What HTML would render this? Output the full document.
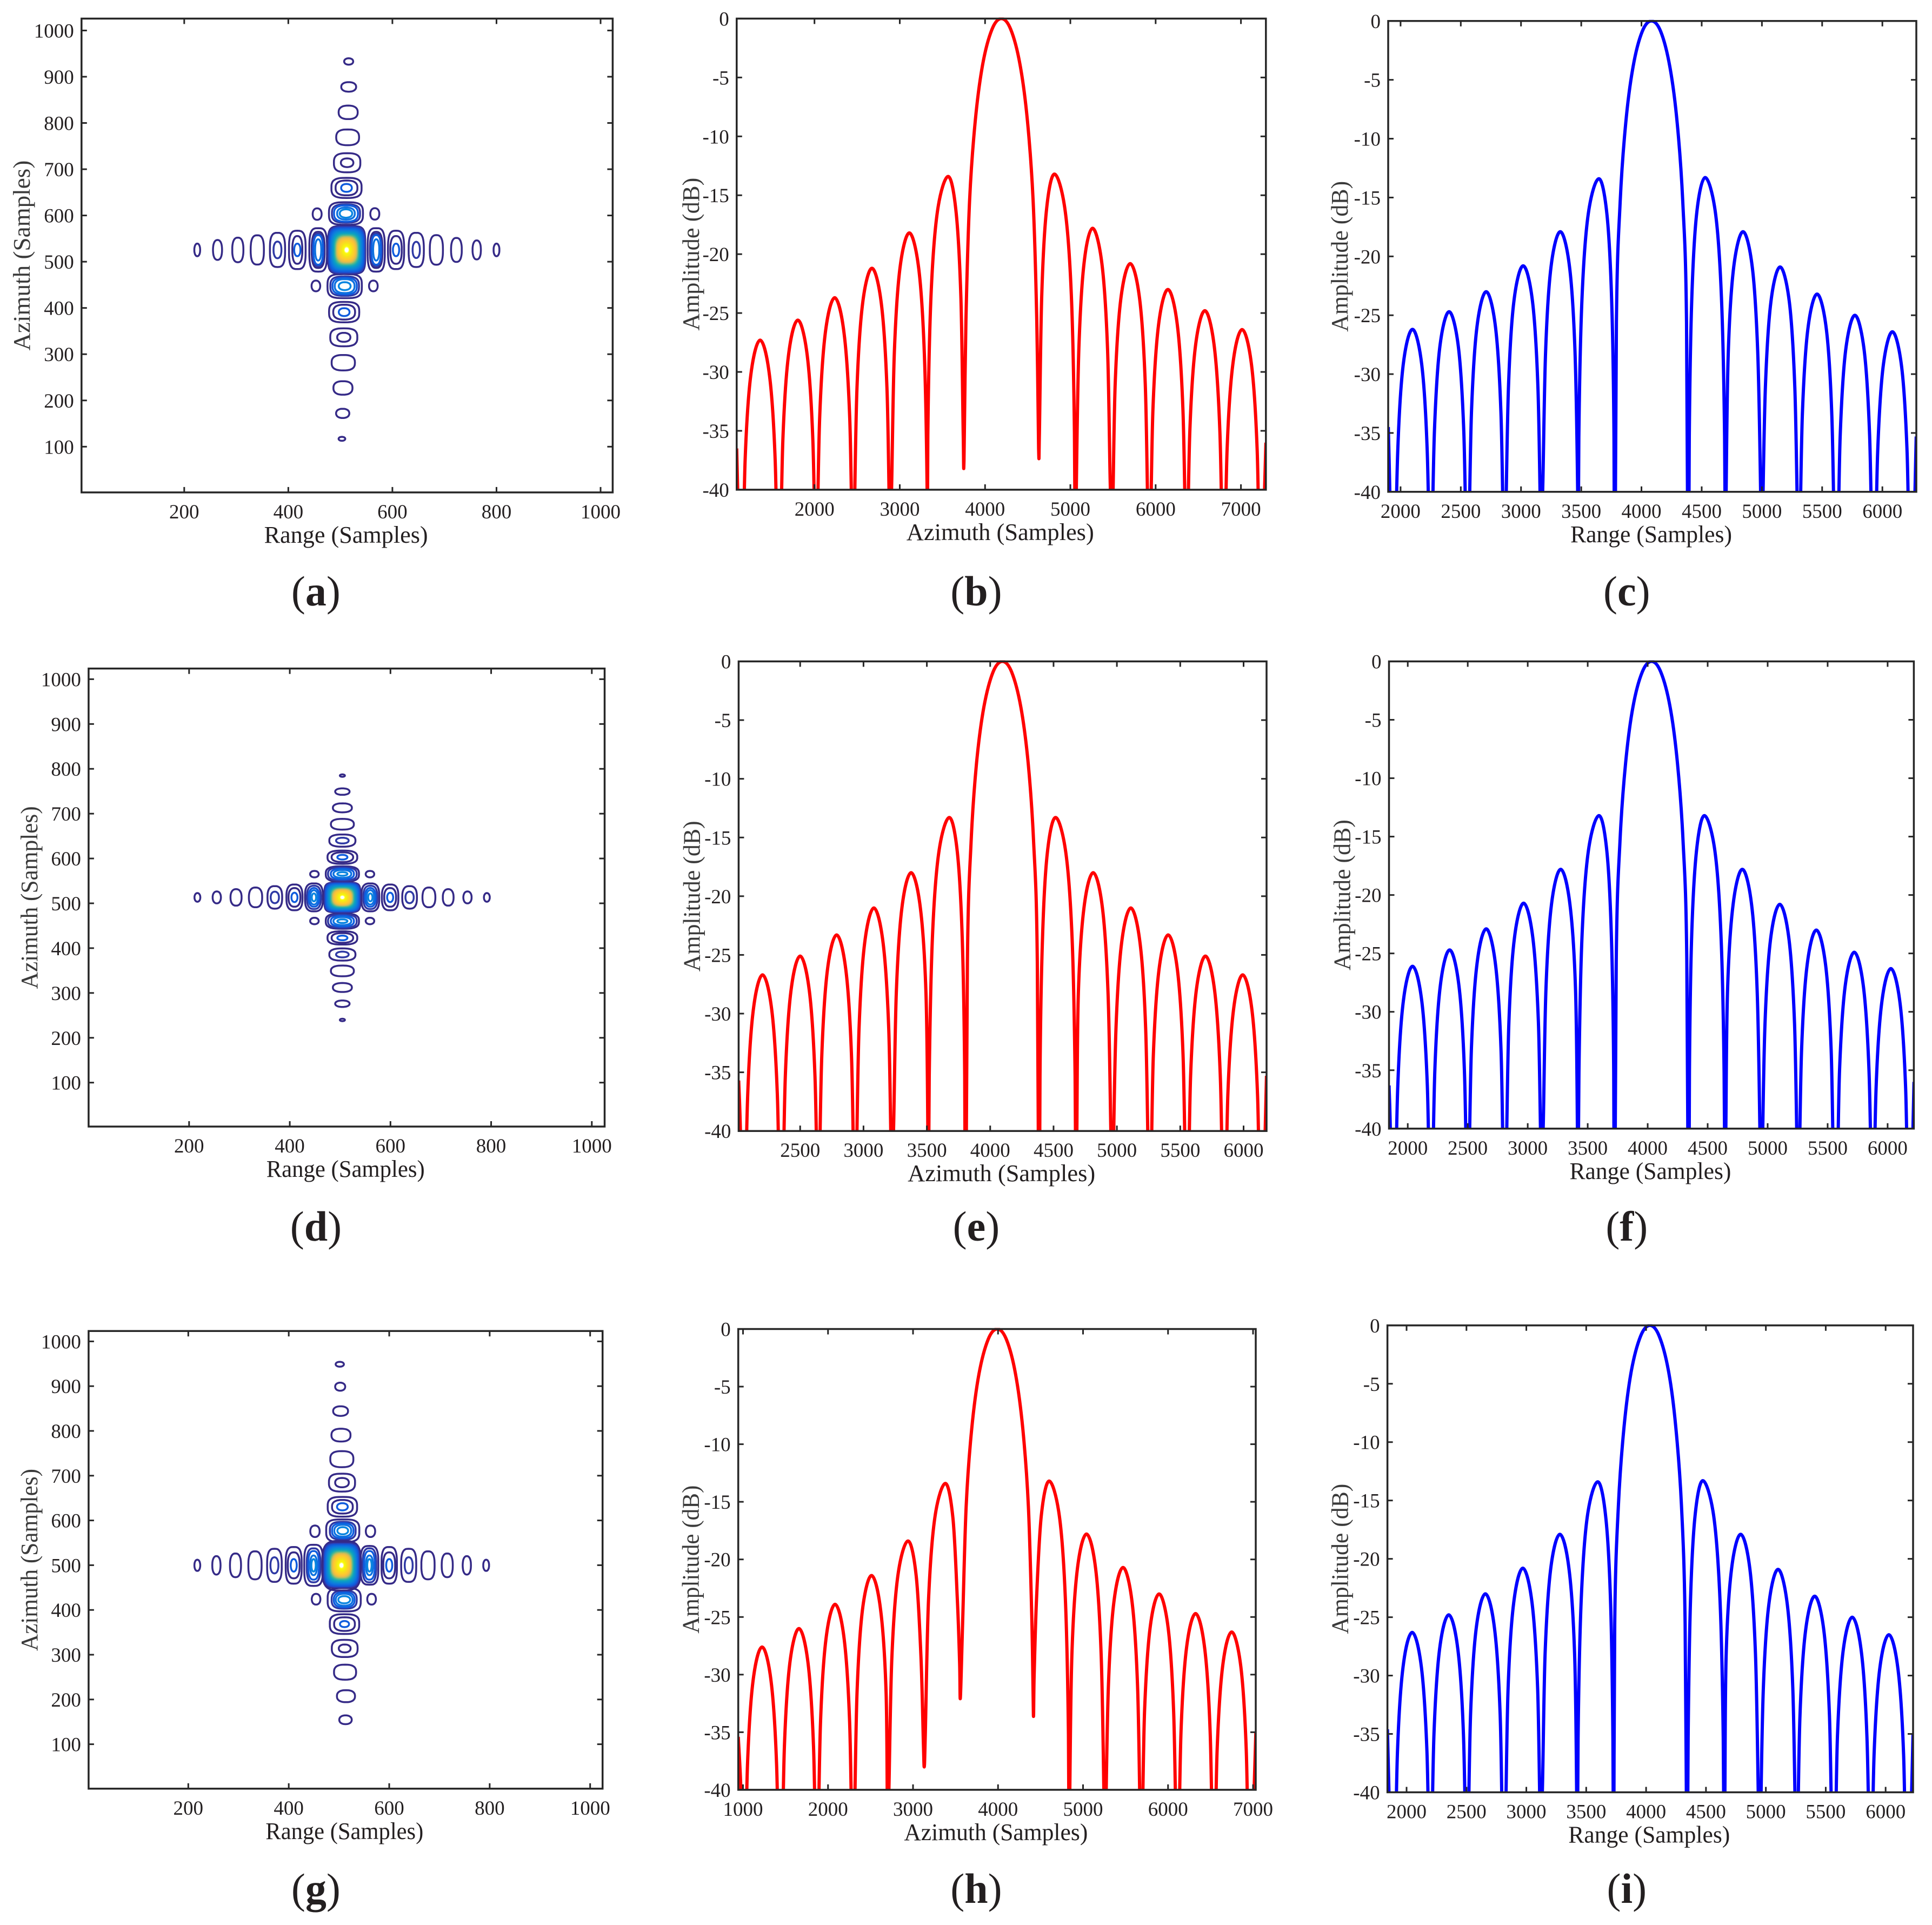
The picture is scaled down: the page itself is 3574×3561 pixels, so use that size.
<!DOCTYPE html>
<html lang="en">
<head>
<meta charset="utf-8">
<title>Point target contour and impulse response profiles</title>
<style>
html,body{margin:0;padding:0;background:#fff;}
svg{display:block;}
text{font-family:"Liberation Serif","DejaVu Serif",serif;fill:#231f20;}
</style>
</head>
<body>
<svg id="figure" xmlns="http://www.w3.org/2000/svg" width="3574" height="3561" viewBox="0 0 3574 3561"></svg>
<script>
/* ---------- chart data: tick labels ---------- */
const contourXTicks=[200,400,600,800,1000];
const contourYTicks=[100,200,300,400,500,600,700,800,900,1000];
const ampTicks=[0,-5,-10,-15,-20,-25,-30,-35,-40];
const ticksB=[2000,3000,4000,5000,6000,7000];
const ticksC=[2000,2500,3000,3500,4000,4500,5000,5500,6000];
const ticksE=[2500,3000,3500,4000,4500,5000,5500,6000];
const ticksF=[2000,2500,3000,3500,4000,4500,5000,5500,6000];
const ticksH=[1000,2000,3000,4000,5000,6000,7000];
const ticksI=[2000,2500,3000,3500,4000,4500,5000,5500,6000];

/* ---------- chart data: contour levels ---------- */
const levelColors=['#352a87','#2f3aa5','#0f5cdd','#0d72e0','#0a86e0'];
const mainLobeScale=[1,.97,.94,.91,.87,.83,.79,.75,.71,.67,.635,.6,.57,.545,.52,.49,.45,.4,.35,.29,.23,.16,.12,.085];
const mainLobeColors=['#352a87','#3038a6','#2446c4','#1359d8','#0f67df','#0f75de','#0d82d9','#0b8fd0','#0a9bc8','#15a6b8','#2fb0a4','#57b78d','#82bb78','#a9bd67','#ccbb5a','#e8bd47','#f8c339','#fecb2e','#fad625','#f6e31b','#f7f011','#f9fb0e','#ffff66','#ffffff'];

/* ---------- panel (a) contour rings ---------- */
const ringRangeA=[225,264,303,340.4,379.2,379.2,417.3,417.3,417.3,457.4,457.4,457.4,457.4,457.4,568.9,568.9,568.9,568.9,568.9,607,607,607,645.8,645.8,684.5,723,762,800,
516,516,515,514,513,513,511.8,511.8,511.8,510.8,510.8,510.8,510.8,510.8,508.3,508.3,508.3,508.3,508.3,507.3,507.3,507.3,506.6,506.6,505.6,505,504.5,503,455.4,566.2,453,563.4];
const ringAzimuthA=[525.5,525.5,525.5,525.5,525.5,525.5,525.5,525.5,525.5,525.5,525.5,525.5,525.5,525.5,525.5,525.5,525.5,525.5,525.5,525.5,525.5,525.5,525.5,525.5,525.5,525.5,525.5,525.5,
933,878,823,769,714,714,659.6,659.6,659.6,604.2,604.2,604.2,604.2,604.2,447.2,447.2,447.2,447.2,447.2,391,391,391,336.5,336.5,281.6,227,172,117,603,603.4,447.6,447.6];
const ringHalfRangeA=[5.6,8.7,10.7,12.7,14.6,7.6,16,9.6,6,17,12.4,10.5,9.3,5.9,16.5,12,10.5,9.3,5.9,15.5,11,6,14.6,7,12.6,10.3,8,5.6,
8.7,14.3,18.3,22,25.4,12,29,21,10.3,32.7,27,23,17,12,33,27.5,23.4,19,11.4,29,21,10.3,26,12.7,22.4,18.3,12.7,6.4,8.6,8.6,8.3,8.3];
const ringHalfAzimuthA=[13.7,21.5,26.6,31.7,37,18,41.5,30,13.6,47,39,35,32,23,47,39,35,32,23,41.5,30,13.6,37,17.5,32,26,20.6,13.7,
6.9,10.3,14.6,17,20.6,9.4,21.7,16,8.5,24.4,20,17.5,13,9,26,21,18,15,8.5,22,16,8.5,19.4,9.7,16.7,14.6,10,4.3,12.4,12.4,11.6,11.6];
const ringLevelA=[0,0,0,0,0,1,0,0,2,0,0,1,2,3,0,0,1,2,3,0,0,2,0,1,0,0,0,0,
0,0,0,0,0,0,0,0,2,0,1,2,3,4,0,1,2,3,4,0,0,2,0,0,0,0,0,0,0,0,0,0];
const mainRangeA=[512.1],mainAzimuthA=[525.5],mainHalfRangeA=[37],mainHalfAzimuthA=[53];

/* ---------- panel (d) contour rings ---------- */
const ringRangeD=[216.5,255,293.3,332,370.3,370.3,409.3,409.3,409.3,448,448,448,448,448,560,560,560,560,560,599.4,599.4,599.4,638,638,676.4,714.7,753,791.5,
504.5,504.5,504.5,504.5,504.5,504.5,504.5,504.5,504.5,504.5,504.5,504.5,504.5,504.5,504.5,504.5,504.5,504.5,504.5,504.5,504.5,504.5,504.5,504.5,504.5,504.5,504.5,504.5,449,559.3,449,559.3];
const ringAzimuthD=[513.2,513.2,513.2,513.2,513.2,513.2,513.2,513.2,513.2,513.2,513.2,513.2,513.2,513.2,513.2,513.2,513.2,513.2,513.2,513.2,513.2,513.2,513.2,513.2,513.2,513.2,513.2,513.2,
784.9,749.2,713,676.4,639.9,639.9,602.9,602.9,602.9,565.5,565.5,565.5,565.5,565.5,460.2,460.2,460.2,460.2,460.2,422.8,422.8,422.8,385.8,385.8,349.2,312.2,276,239.8,565.1,565.1,460.6,460.6];
const ringHalfRangeD=[5.8,8.2,11,13.2,14.6,8.2,16,11.8,6,17.8,14,10.7,7.8,4.3,17.8,14,10.7,7.8,4.3,16.4,11.8,6,14.6,8.2,12.8,10.7,8.2,5.8,
5,14.3,18.9,22.8,26,12.5,29.6,21.4,10,33,28.5,23,17.8,10,33,28.5,23,17.8,10,29.6,21.4,10,26,12.5,22.8,18.9,14.3,5,8.5,8.5,8.5,8.5];
const ringHalfAzimuthD=[9.7,13.3,18.4,22,25.2,12.8,28.8,20.8,10.4,31.2,26,20.8,16,8.8,31.2,26,20.8,16,8.8,28.8,20.8,10.4,25.2,12.8,22,18.4,13.3,9.7,
2.7,7.2,10,12,13.6,6.4,14.8,10.8,5.2,17,14.8,12,8.8,4,17,14.8,12,8.8,4,14.8,10.8,5.2,13.6,6.4,12,10,7.2,2.7,7.2,7.2,7.2,7.2];
const ringLevelD=[0,0,0,0,0,1,0,0,2,0,1,2,3,4,0,1,2,3,4,0,0,2,0,1,0,0,0,0,
0,0,0,0,0,1,0,0,2,0,1,2,3,4,0,1,2,3,4,0,0,2,0,1,0,0,0,0,0,0,0,0];
const mainRangeD=[504.5],mainAzimuthD=[513.2],mainHalfRangeD=[37],mainHalfAzimuthD=[34.8];

/* ---------- panel (g) contour rings ---------- */
const ringRangeG=[218,256,294,332.8,371.5,371.5,409.9,409.9,409.9,449.4,449.4,449.4,449.4,449.4,560.6,560.6,560.6,560.6,560.6,600,600,600,638.8,638.8,677.2,715.5,754.5,793,
501.6,502.4,503.2,504,505.7,506,506,506.8,506.8,506.8,507.5,507.5,507.5,507.5,507.5,510.4,510.4,510.4,510.4,510.4,511,511,511,511.4,511.4,512.1,513.9,513,452.2,562.7,454.4,564.9,505];
const ringAzimuthG=[499.7,499.7,499.7,499.7,499.7,499.7,499.7,499.7,499.7,499.7,499.7,499.7,499.7,499.7,499.7,499.7,499.7,499.7,499.7,499.7,499.7,499.7,499.7,499.7,499.7,499.7,499.7,499.7,
948.9,898.8,844.3,790.6,736.9,684.5,684.5,630.5,630.5,630.5,577,577,577,577,577,422.8,422.8,422.8,422.8,422.8,368.4,368.4,368.4,314,314,261,207.4,154.6,575.8,575.8,424,424,499];
const ringHalfRangeG=[5.8,8.2,11,13.2,14.6,7.9,16,11.8,6,18.6,13.6,10.7,7.1,4.3,17.8,13.6,10.7,7.1,4.3,15.4,11.8,6,15,7.9,13.2,11,8.2,5.8,
8.2,10,14.8,19,23,26,13.6,29.3,20.7,10.7,33,25.7,21.4,16.8,10.7,33,25,20.7,16.8,11.8,29.3,20.7,9,25.7,11.8,22,18,12.4,9.3,9.3,8.6,8.6,38.5];
const ringHalfAzimuthG=[12.5,20.6,26.5,31.3,37,18,41,29,14,46,38,32,22,14,43.3,38,32,22,14,41,29,14,37,18,31.3,26.5,20.6,12.5,
5.4,9,10.7,14.3,17.9,20,10.4,22,15.2,8,25.2,20,16.8,13.2,8,26,20,16.8,13.2,8,22,15.2,6.8,19.2,8.8,16.8,13.4,9.8,12.8,12.8,12,12,55.5];
const ringLevelG=[0,0,0,0,0,1,0,0,2,0,1,2,3,4,0,1,2,3,4,0,0,2,0,1,0,0,0,0,
0,0,0,0,0,0,0,0,0,2,0,1,2,3,4,0,1,2,3,4,0,0,2,0,0,0,0,0,0,0,0,0,0];
const mainRangeG=[505],mainAzimuthG=[499.7],mainHalfRangeG=[37],mainHalfAzimuthG=[51.7];

/* ---------- panel (b) azimuth profile ---------- */
const azimuthB=[1088,1122,1154,1187,1253,1363,1473,1539,1572,1596,1629,1695,1805,1915,1981,2014,2028,2061,2127,2237,2347,2413,2446,2465,2498,2564,2674,2784,2850,2883,2903,2936,3002,3112,3222,3288,3321,3325,3329,3366,3441,3567,3660,3716,3744,3753,3776,3819,3885,3972,4082,4191,4300,4410,4497,4563,4606,4628,4637,4665,4721,4814,4937,5011,5048,5058,5070,5100,5160,5260,5370,5436,5469,5493,5526,5592,5702,5812,5878,5911,5935,5968,6034,6144,6254,6320,6353,6368,6401,6467,6577,6687,6753,6786,6805,6838,6904,7014,7124,7190,7223,7255,7293];
const amplitudeB=[-36.5,-46,-49.3,-37.5,-30.3,-27.3,-30.3,-37.5,-49.3,-47.6,-35.8,-28.6,-25.6,-28.6,-35.8,-47.6,-45.7,-33.9,-26.7,-23.7,-26.7,-33.9,-45.7,-43.2,-31.4,-24.2,-21.2,-24.2,-31.4,-43.2,-40.2,-28.4,-21.2,-18.2,-21.2,-28.4,-40.2,-50,-35.4,-23.6,-16.4,-13.4,-16.4,-23.6,-35.4,-37.5,-25.6,-15.4,-8.7,-3.9,-.9,0,-.9,-3.9,-8.7,-15.4,-25.6,-36.5,-35.2,-23.4,-16.2,-13.2,-16.2,-23.4,-35.2,-50,-39.8,-28,-20.8,-17.8,-20.8,-28,-39.8,-42.8,-31,-23.8,-20.8,-23.8,-31,-42.8,-45,-33.2,-26,-23,-26,-33.2,-45,-46.8,-35,-27.8,-24.8,-27.8,-35,-46.8,-48.4,-36.6,-29.4,-26.4,-29.4,-36.6,-48.4,-45,-36];

/* ---------- panel (c) range profile ---------- */
const rangeC=[1898,1914,1935,1953,1977,2022,2099,2176,2221,2245,2257,2281,2326,2403,2480,2525,2549,2565,2589,2634,2711,2788,2833,2857,2872,2896,2941,3018,3095,3140,3164,3180,3204,3249,3326,3403,3448,3470,3475,3480,3506,3558,3646,3713,3752,3772,3778,3792,3823,3869,3930,4006,4083,4160,4236,4297,4343,4374,4388,4397,4418,4459,4529,4614,4664,4690,4697,4703,4721,4766,4843,4920,4965,4989,4998,5005,5029,5074,5151,5228,5273,5297,5312,5336,5381,5458,5535,5580,5604,5626,5650,5695,5772,5849,5894,5918,5937,5961,6006,6083,6160,6205,6229,6255,6281];
const amplitudeC=[-34.5,-42,-60,-48.2,-36.4,-29.2,-26.2,-29.2,-36.4,-48.2,-46.7,-34.9,-27.7,-24.7,-27.7,-34.9,-46.7,-45,-33.2,-26,-23,-26,-33.2,-45,-42.8,-31,-23.8,-20.8,-23.8,-31,-42.8,-39.9,-28.1,-20.9,-17.9,-20.9,-28.1,-39.9,-50,-35.4,-23.6,-16.4,-13.4,-16.4,-23.6,-35.4,-55,-25.6,-15.4,-8.7,-3.9,-.9,0,-.9,-3.9,-8.7,-15.4,-25.6,-55,-35.3,-23.5,-16.3,-13.3,-16.3,-23.5,-35.3,-50,-39.9,-28.1,-20.9,-17.9,-20.9,-28.1,-39.9,-50,-42.9,-31.1,-23.9,-20.9,-23.9,-31.1,-42.9,-45.2,-33.4,-26.2,-23.2,-26.2,-33.4,-45.2,-47,-35.2,-28,-25,-28,-35.2,-47,-48.4,-36.6,-29.4,-26.4,-29.4,-36.6,-48.4,-46,-35.3];

/* ---------- panel (e) azimuth profile ---------- */
const azimuthE=[2015,2032,2048,2064,2086,2130,2203,2276,2320,2342,2361,2383,2427,2500,2573,2617,2639,2649,2671,2715,2788,2861,2905,2927,2943,2965,3009,3082,3155,3199,3221,3237,3259,3303,3376,3449,3493,3508,3512,3519,3544,3594,3677,3741,3779,3799,3805,3820,3849,3892,3950,4023,4096,4169,4242,4300,4343,4372,4386,4393,4413,4451,4516,4597,4646,4670,4677,4684,4696,4740,4813,4886,4930,4952,4965,4971,4993,5037,5110,5183,5227,5249,5266,5288,5332,5405,5478,5522,5544,5560,5582,5626,5699,5772,5816,5838,5854,5876,5920,5993,6066,6110,6132,6155,6181];
const amplitudeE=[-35.7,-42,-60,-48.7,-36.9,-29.7,-26.7,-29.7,-36.9,-48.7,-47.1,-35.3,-28.1,-25.1,-28.1,-35.3,-47.1,-45.3,-33.5,-26.3,-23.3,-26.3,-33.5,-45.3,-43,-31.2,-24,-21,-24,-31.2,-43,-40,-28.2,-21,-18,-21,-28.2,-40,-50,-35.3,-23.5,-16.3,-13.3,-16.3,-23.5,-35.3,-55,-25.6,-15.4,-8.7,-3.9,-.9,0,-.9,-3.9,-8.7,-15.4,-25.6,-55,-35.3,-23.5,-16.3,-13.3,-16.3,-23.5,-35.3,-50,-40,-28.2,-21,-18,-21,-28.2,-40,-50,-43,-31.2,-24,-21,-24,-31.2,-43,-45.3,-33.5,-26.3,-23.3,-26.3,-33.5,-45.3,-47.1,-35.3,-28.1,-25.1,-28.1,-35.3,-47.1,-48.7,-36.9,-29.7,-26.7,-29.7,-36.9,-48.7,-46,-35.3];

/* ---------- panel (f) range profile ---------- */
const rangeF=[1844,1858,1875,1894,1917,1963,2040,2117,2163,2186,2203,2226,2272,2349,2426,2472,2495,2508,2531,2577,2654,2731,2777,2800,2820,2843,2889,2966,3043,3089,3112,3129,3152,3198,3275,3352,3398,3414,3418,3427,3453,3506,3594,3659,3697,3717,3723,3738,3769,3816,3877,3955,4032,4109,4187,4248,4295,4326,4341,4348,4367,4407,4473,4560,4611,4637,4645,4652,4666,4712,4789,4866,4912,4935,4945,4955,4978,5024,5101,5178,5224,5247,5260,5283,5329,5406,5483,5529,5552,5576,5599,5645,5722,5799,5845,5868,5881,5904,5950,6027,6104,6150,6173,6196,6220];
const amplitudeF=[-36.3,-42,-60,-48.1,-36.3,-29.1,-26.1,-29.1,-36.3,-48.1,-46.7,-34.9,-27.7,-24.7,-27.7,-34.9,-46.7,-44.9,-33.1,-25.9,-22.9,-25.9,-33.1,-44.9,-42.7,-30.9,-23.7,-20.7,-23.7,-30.9,-42.7,-39.8,-28,-20.8,-17.8,-20.8,-28,-39.8,-50,-35.2,-23.4,-16.2,-13.2,-16.2,-23.4,-35.2,-55,-25.6,-15.4,-8.7,-3.9,-.9,0,-.9,-3.9,-8.7,-15.4,-25.6,-55,-35.2,-23.4,-16.2,-13.2,-16.2,-23.4,-35.2,-50,-39.8,-28,-20.8,-17.8,-20.8,-28,-39.8,-50,-42.8,-31,-23.8,-20.8,-23.8,-31,-42.8,-45,-33.2,-26,-23,-26,-33.2,-45,-46.9,-35.1,-27.9,-24.9,-27.9,-35.1,-46.9,-48.3,-36.5,-29.3,-26.3,-29.3,-36.5,-48.3,-46,-36];

/* ---------- panel (h) azimuth profile ---------- */
const azimuthH=[944,975,1000,1021,1053,1117,1224,1331,1395,1427,1455,1487,1551,1658,1765,1829,1861,1880,1912,1976,2083,2190,2254,2286,2309,2341,2405,2512,2619,2683,2700,2715,2751,2822,2941,3037,3094,3122,3132,3144,3182,3256,3380,3469,3522,3548,3557,3583,3625,3690,3776,3884,3991,4098,4206,4292,4357,4399,4416,4425,4453,4509,4602,4721,4792,4828,4836,4845,4870,4934,5041,5148,5212,5244,5255,5267,5299,5363,5470,5577,5641,5673,5692,5724,5788,5895,6002,6066,6098,6121,6153,6217,6324,6431,6495,6527,6546,6578,6642,6749,6856,6920,6952,6985,7033];
const amplitudeH=[-35.4,-40,-48,-49.6,-37.8,-30.6,-27.6,-30.6,-37.8,-49.6,-48,-36.2,-29,-26,-29,-36.2,-48,-45.9,-34.1,-26.9,-23.9,-26.9,-34.1,-45.9,-43.4,-31.6,-24.4,-21.4,-24.4,-31.6,-43.4,-40.4,-28.6,-21.4,-18.4,-21.4,-28.6,-36,-38,-35.4,-23.6,-16.4,-13.4,-16.4,-23.6,-29,-32,-25.6,-15.4,-8.7,-3.9,-.9,0,-.9,-3.9,-8.7,-15.4,-25.6,-33.5,-30,-23.4,-16.2,-13.2,-16.2,-23.4,-35.2,-50,-39.8,-28,-20.8,-17.8,-20.8,-28,-39.8,-50,-42.7,-30.9,-23.7,-20.7,-23.7,-30.9,-42.7,-45,-33.2,-26,-23,-26,-33.2,-45,-46.7,-34.9,-27.7,-24.7,-27.7,-34.9,-46.7,-48.3,-36.5,-29.3,-26.3,-29.3,-36.5,-48.3,-46,-35];

/* ---------- panel (i) range profile ---------- */
const rangeI=[1840,1858,1877,1901,1924,1970,2047,2124,2170,2193,2206,2229,2275,2352,2429,2475,2498,2512,2535,2581,2658,2735,2781,2804,2825,2848,2894,2971,3048,3094,3117,3134,3157,3203,3280,3357,3403,3420,3426,3432,3458,3509,3596,3663,3703,3723,3729,3738,3769,3816,3877,3955,4032,4109,4187,4248,4295,4326,4342,4351,4371,4409,4474,4564,4617,4644,4652,4658,4669,4713,4790,4867,4913,4936,4948,4956,4979,5025,5102,5179,5225,5248,5262,5285,5331,5408,5485,5531,5554,5575,5598,5644,5721,5798,5844,5867,5881,5904,5950,6027,6104,6150,6173,6200,6229];
const amplitudeI=[-34.6,-42,-50,-48.3,-36.5,-29.3,-26.3,-29.3,-36.5,-48.3,-46.8,-35,-27.8,-24.8,-27.8,-35,-46.8,-45,-33.2,-26,-23,-26,-33.2,-45,-42.8,-31,-23.8,-20.8,-23.8,-31,-42.8,-39.9,-28.1,-20.9,-17.9,-20.9,-28.1,-39.9,-50,-35.4,-23.6,-16.4,-13.4,-16.4,-23.6,-35.4,-50,-25.6,-15.4,-8.7,-3.9,-.9,0,-.9,-3.9,-8.7,-15.4,-25.6,-50,-35.3,-23.5,-16.3,-13.3,-16.3,-23.5,-35.3,-50,-39.9,-28.1,-20.9,-17.9,-20.9,-28.1,-39.9,-50,-42.9,-31.1,-23.9,-20.9,-23.9,-31.1,-42.9,-45.2,-33.4,-26.2,-23.2,-26.2,-33.4,-45.2,-47,-35.2,-28,-25,-28,-35.2,-47,-48.5,-36.7,-29.5,-26.5,-29.5,-36.7,-48.5,-46,-35];

/* ---------- rendering ---------- */
const NS='http://www.w3.org/2000/svg';
const figure=document.getElementById('figure');
function el(parent,tag,attrs,txt){
  const n=document.createElementNS(NS,tag);
  for(const k in attrs)n.setAttribute(k,attrs[k]);
  if(txt!==undefined)n.textContent=txt;
  parent.appendChild(n);
  return n;
}
function linearAxis(v1,p1,v2,p2){const k=(p2-p1)/(v2-v1);return v=>p1+(v-v1)*k;}
const INK='#262626';

function drawAxes(g,p,xTicks,yTicks,xScale,yScale){
  for(const t of xTicks){
    const x=xScale(t);
    const a=el(g,'line',{x1:x,x2:x,y1:p.bottom,y2:p.bottom-10,stroke:INK,'stroke-width':3});
    
    
    const b=el(g,'line',{x1:x,x2:x,y1:p.top,y2:p.top+10,stroke:INK,'stroke-width':3});
    
    
    const lab=el(g,'text',{x:x,y:p.bottom+48,'text-anchor':'middle','font-size':37},String(t));
    
    
  }
  for(const t of yTicks){
    const y=yScale(t);
    const a=el(g,'line',{x1:p.left,x2:p.left+10,y1:y,y2:y,stroke:INK,'stroke-width':3});
    
    
    const b=el(g,'line',{x1:p.right,x2:p.right-10,y1:y,y2:y,stroke:INK,'stroke-width':3});
    
    
    const lab=el(g,'text',{x:p.left-14,y:y+13,'text-anchor':'end','font-size':37},String(t));
    
    
  }
  const fr=el(g,'rect',{x:p.left,y:p.top,width:p.right-p.left,height:p.bottom-p.top,fill:'none',stroke:INK,'stroke-width':3.5});
  
  
  const xt=el(g,'text',{x:(p.left+p.right)/2-2,y:p.bottom+93,'text-anchor':'middle','font-size':44,textLength:p.xLen,lengthAdjust:'spacingAndGlyphs'},p.xTitle);
  
  
  const yx=p.left-p.yOff,yy=(p.top+p.bottom)/2;
  const yt=el(g,'text',{x:yx,y:yy,'text-anchor':'middle','font-size':44,textLength:p.yLen,lengthAdjust:'spacingAndGlyphs',transform:'rotate(-90 '+yx+' '+yy+')',style:'fill:#3a3a3a'},p.yTitle);
  
  
  const cap=el(g,'text',{x:p.capX,y:p.capY,'text-anchor':'middle','font-size':78});
  
  
  el(cap,'tspan',{},'(');
  el(cap,'tspan',{'font-weight':'bold'},p.letter);
  el(cap,'tspan',{},')');
}

function ringPath(r,a,dr,da,n,xScale,yScale){
  let d='';
  const steps=48;
  for(let k=0;k<steps;k++){
    const th=k/steps*2*Math.PI,c=Math.cos(th),s=Math.sin(th);
    const ux=Math.sign(c)*Math.pow(Math.abs(c),2/n),uy=Math.sign(s)*Math.pow(Math.abs(s),2/n);
    d+=(k?'L':'M')+xScale(r+dr*ux).toFixed(1)+' '+yScale(a+da*uy).toFixed(1);
  }
  return d+'Z';
}

function drawContour(p,rr,ra,rdr,rda,rl,mr,ma,mdr,mda){
  const g=el(figure,'g',{});
  
  
  const xScale=linearAxis(p.xRef[0],p.xRef[1],p.xRef[2],p.xRef[3]);
  const yScale=linearAxis(p.yRef[0],p.yRef[1],p.yRef[2],p.yRef[3]);
  rr.forEach((r,i)=>{
    const n=2+1.5*Math.min(1,rdr[i]*rda[i]/860);
    const ring=el(g,'path',{d:ringPath(r,ra[i],rdr[i],rda[i],n,xScale,yScale),fill:'none',stroke:levelColors[rl[i]],'stroke-width':3.5});
    
    
  });
  mainLobeScale.forEach((f,i)=>{
    const n=2+3*f*f;
    const ring=el(g,'path',{d:ringPath(mr[0],ma[0],mdr[0]*f,mda[0]*f,n,xScale,yScale),fill:mainLobeColors[i],stroke:mainLobeColors[i],'stroke-width':1});
    
    
  });
  drawAxes(g,p,contourXTicks,contourYTicks,xScale,yScale);
}

function smoothPath(px,py){
  let d='M'+px[0].toFixed(1)+' '+py[0].toFixed(1);
  for(let i=0;i<px.length-1;i++){
    const a=Math.max(i-1,0),b=i,c=i+1,e=Math.min(i+2,px.length-1);
    const c1x=px[b]+(px[c]-px[a])/6,c1y=py[b]+(py[c]-py[a])/6;
    const c2x=px[c]-(px[e]-px[b])/6,c2y=py[c]-(py[e]-py[b])/6;
    d+='C'+c1x.toFixed(1)+' '+c1y.toFixed(1)+' '+c2x.toFixed(1)+' '+c2y.toFixed(1)+' '+px[c].toFixed(1)+' '+py[c].toFixed(1);
  }
  return d;
}

function drawProfile(p,xs,ys,xTicks){
  const g=el(figure,'g',{});
  
  
  const xScale=linearAxis(p.xRef[0],p.xRef[1],p.xRef[2],p.xRef[3]);
  const yScale=linearAxis(0,p.top,-40,p.bottom);
  const id='clip-'+p.letter;
  const cp=el(g,'clipPath',{id:id});
  el(cp,'rect',{x:p.left,y:p.top-2,width:p.right-p.left,height:p.bottom-p.top+2});
  const line=el(g,'path',{d:smoothPath(xs.map(xScale),ys.map(yScale)),fill:'none',stroke:p.color,'stroke-width':6,'stroke-linejoin':'round','clip-path':'url(#'+id+')'});
  
  
  drawAxes(g,p,xTicks,ampTicks,xScale,yScale);
}

drawContour({name:'panel-a-contour',letter:'a',left:150.8,right:1133.4,top:34.4,bottom:910.9,xRef:[200,340.8,1000,1111],yRef:[1000,56.4,100,826.3],xTitle:'Range (Samples)',yTitle:'Azimuth (Samples)',xLen:303,yLen:352,yOff:96,capX:584.4,capY:1120},
  ringRangeA,ringAzimuthA,ringHalfRangeA,ringHalfAzimuthA,ringLevelA,mainRangeA,mainAzimuthA,mainHalfRangeA,mainHalfAzimuthA);
drawContour({name:'panel-d-contour',letter:'d',left:163.9,right:1118.5,top:1236.7,bottom:2084,xRef:[200,349.8,1000,1094.8],yRef:[1000,1256.4,100,2002.7],xTitle:'Range (Samples)',yTitle:'Azimuth (Samples)',xLen:293,yLen:338,yOff:95,capX:584.4,capY:2295},
  ringRangeD,ringAzimuthD,ringHalfRangeD,ringHalfAzimuthD,ringLevelD,mainRangeD,mainAzimuthD,mainHalfRangeD,mainHalfAzimuthD);
drawContour({name:'panel-g-contour',letter:'g',left:163.9,right:1114.7,top:2462.2,bottom:3308.8,xRef:[200,348.3,1000,1091.7],yRef:[1000,2481.4,100,3226.6],xTitle:'Range (Samples)',yTitle:'Azimuth (Samples)',xLen:292,yLen:337,yOff:95,capX:584.4,capY:3520},
  ringRangeG,ringAzimuthG,ringHalfRangeG,ringHalfAzimuthG,ringLevelG,mainRangeG,mainAzimuthG,mainHalfRangeG,mainHalfAzimuthG);

drawProfile({name:'panel-b-azimuth-profile',letter:'b',color:'#ff0000',left:1362.8,right:2341.8,top:34.4,bottom:905.9,xRef:[2000,1506.7,7000,2295.6],xTitle:'Azimuth (Samples)',yTitle:'Amplitude (dB)',xLen:347,yLen:283,yOff:70,capX:1805.9,capY:1120},azimuthB,amplitudeB,ticksB);
drawProfile({name:'panel-c-range-profile',letter:'c',color:'#0000ff',left:2568,right:3545,top:38.8,bottom:909.8,xRef:[2000,2590.9,6000,3482.2],xTitle:'Range (Samples)',yTitle:'Amplitude (dB)',xLen:299,yLen:279,yOff:75,capX:3009.3,capY:1120},rangeC,amplitudeC,ticksC);
drawProfile({name:'panel-e-azimuth-profile',letter:'e',color:'#ff0000',left:1366.4,right:2343,top:1223.5,bottom:2092.2,xRef:[2500,1480.2,6000,2300.5],xTitle:'Azimuth (Samples)',yTitle:'Amplitude (dB)',xLen:347,yLen:279,yOff:72,capX:1805.9,capY:2295},azimuthE,amplitudeE,ticksE);
drawProfile({name:'panel-f-range-profile',letter:'f',color:'#0000ff',left:2569.5,right:3540.4,top:1223.5,bottom:2087.8,xRef:[2000,2604.2,6000,3491.9],xTitle:'Range (Samples)',yTitle:'Amplitude (dB)',xLen:299,yLen:279,yOff:72,capX:3009.3,capY:2295},rangeF,amplitudeF,ticksF);
drawProfile({name:'panel-h-azimuth-profile',letter:'h',color:'#ff0000',left:1365.7,right:2323,top:2458.5,bottom:3310.9,xRef:[1000,1374.5,7000,2318],xTitle:'Azimuth (Samples)',yTitle:'Amplitude (dB)',xLen:340,yLen:274,yOff:73,capX:1805.9,capY:3520},azimuthH,amplitudeH,ticksH);
drawProfile({name:'panel-i-range-profile',letter:'i',color:'#0000ff',left:2566.6,right:3539,top:2451.8,bottom:3315.5,xRef:[2000,2602,6000,3488.2],xTitle:'Range (Samples)',yTitle:'Amplitude (dB)',xLen:299,yLen:278,yOff:73,capX:3009.3,capY:3520},rangeI,amplitudeI,ticksI);
</script>
</body>
</html>
